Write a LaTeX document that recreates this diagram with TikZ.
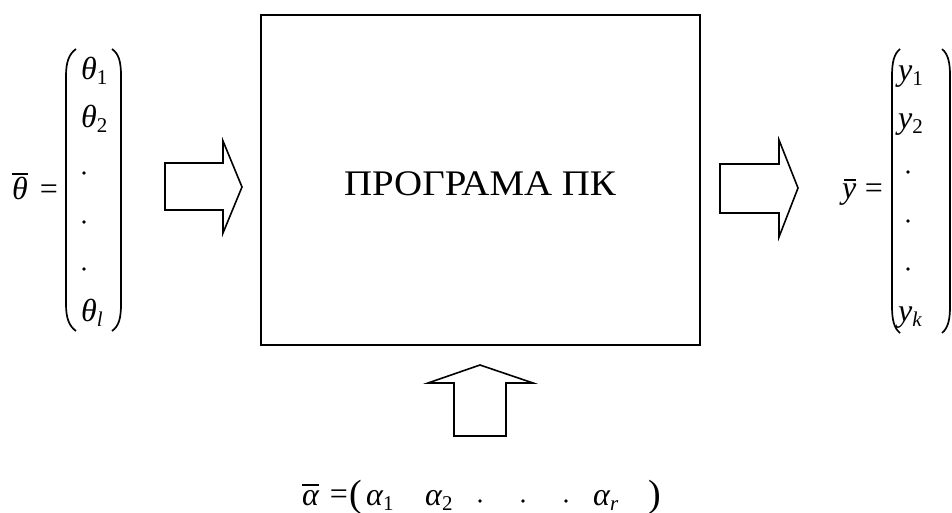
\documentclass[tikz,border=0pt]{standalone}
\usepackage{fontspec}
\setmainfont{Liberation Serif}
\newcommand\sbu[1]{\raisebox{-5pt}{\fontsize{21}{21}\selectfont\upshape #1}}
\newcommand\sbi[1]{\raisebox{-5pt}{\fontsize{21}{21}\selectfont\itshape #1}}
\begin{document}
\begin{tikzpicture}[x=1pt,y=-1pt,
  m/.style={font=\fontsize{32}{32}\selectfont\itshape, inner sep=0pt, anchor=base west},
  eqs/.style={font=\fontsize{32}{32}\selectfont, inner sep=0pt, anchor=center},
  bigp/.style={font=\fontsize{38}{38}\selectfont, inner sep=0pt, anchor=base},
  dotn/.style={circle, fill=black, inner sep=0pt, minimum size=3.6pt},
  ovline/.style={line width=1.3pt},
  blockarrow/.style={draw=black, line width=1.6pt, line join=miter},
  paren/.style={line width=1.7pt},
  mainbox/.style={draw=black, line width=2pt, minimum width=439pt, minimum height=330pt, inner sep=0pt}
]
\useasboundingbox (0,0) rectangle (952,513);

% main box
\node[mainbox] (box) at (480.5,180) {};
\node[font=\fontsize{36}{36}\selectfont, inner sep=0pt, anchor=base] (title) at (480,195) {\scalebox{1.08}[1]{ПРОГРАМА ПК}};

% block arrows
\draw[blockarrow] (165,163) -- (223,163) -- (223,141) -- (242,187) -- (223,233) -- (223,210) -- (165,210) -- cycle;
\draw[blockarrow] (720,164) -- (779,164) -- (779,140) -- (798,188) -- (779,237) -- (779,213) -- (720,213) -- cycle;
\draw[blockarrow] (454,436) -- (454,383) -- (428,383) -- (480,365) -- (533,383) -- (506,383) -- (506,436) -- cycle;

% left vector
\node[m] (thbar) at (12,200) {θ};
\draw[ovline] (thbar.north west |- 0,174) coordinate (tbl) -- (tbl -| thbar.north east);
\node[eqs] (eq1) at (49,192.5) {=};
\draw[paren] (76,49) .. controls (69,54) and (66,62) .. (66,76) -- (66,304) .. controls (66,318) and (69,326) .. (76,331);
\draw[paren] (112,49) .. controls (119,54) and (121,62) .. (121,76) -- (121,304) .. controls (121,318) and (119,326) .. (112,331);
\node[m] (th1) at (81,80) {θ\sbu{1}};
\node[m] (th2) at (81,128) {θ\sbu{2}};
\node[dotn] (ld1) at (84,173) {};
\node[dotn] (ld2) at (84,222) {};
\node[dotn] (ld3) at (84,269) {};
\node[m] (thl) at (81,321) {θ\sbi{l}};

% right vector
\node[m] (ybar) at (842,198) {y};
\draw[ovline] (844,180) coordinate (ybl) -- (856,180);
\node[eqs] (eq2) at (874,191.5) {=};
\draw[paren] (900,49) .. controls (894,54) and (892,62) .. (892,76) -- (892,306) .. controls (892,320) and (894,328) .. (900,333);
\draw[paren] (942,49) .. controls (948,54) and (950,62) .. (950,76) -- (950,306) .. controls (950,320) and (948,328) .. (942,333);
\node[m] (y1) at (898,81) {y\sbu{1}};
\node[m] (y2) at (898,129) {y\sbu{2}};
\node[dotn] (rd1) at (908,172) {};
\node[dotn] (rd2) at (908,221) {};
\node[dotn] (rd3) at (908,269) {};
\node[m] (yk) at (898,321) {y\sbi{k}};

% bottom vector
\node[m] (abar) at (302,505) {α};
\draw[ovline] (abar.north west |- 0,485) coordinate (abl) -- (abl -| abar.north east);
\node[eqs] (eq3) at (339,497) {=};
\node[bigp] (lp) at (356,506) {(};
\node[m] (a1) at (366,505) {α\sbu{1}};
\node[m] (a2) at (425,505) {α\sbu{2}};
\node[dotn] (bd1) at (480,501) {};
\node[dotn] (bd2) at (523,501) {};
\node[dotn] (bd3) at (566,501) {};
\node[m] (ar) at (593,505) {α\sbi{r}};
\node[bigp] (rp) at (655,506) {)};
\end{tikzpicture}
\end{document}
